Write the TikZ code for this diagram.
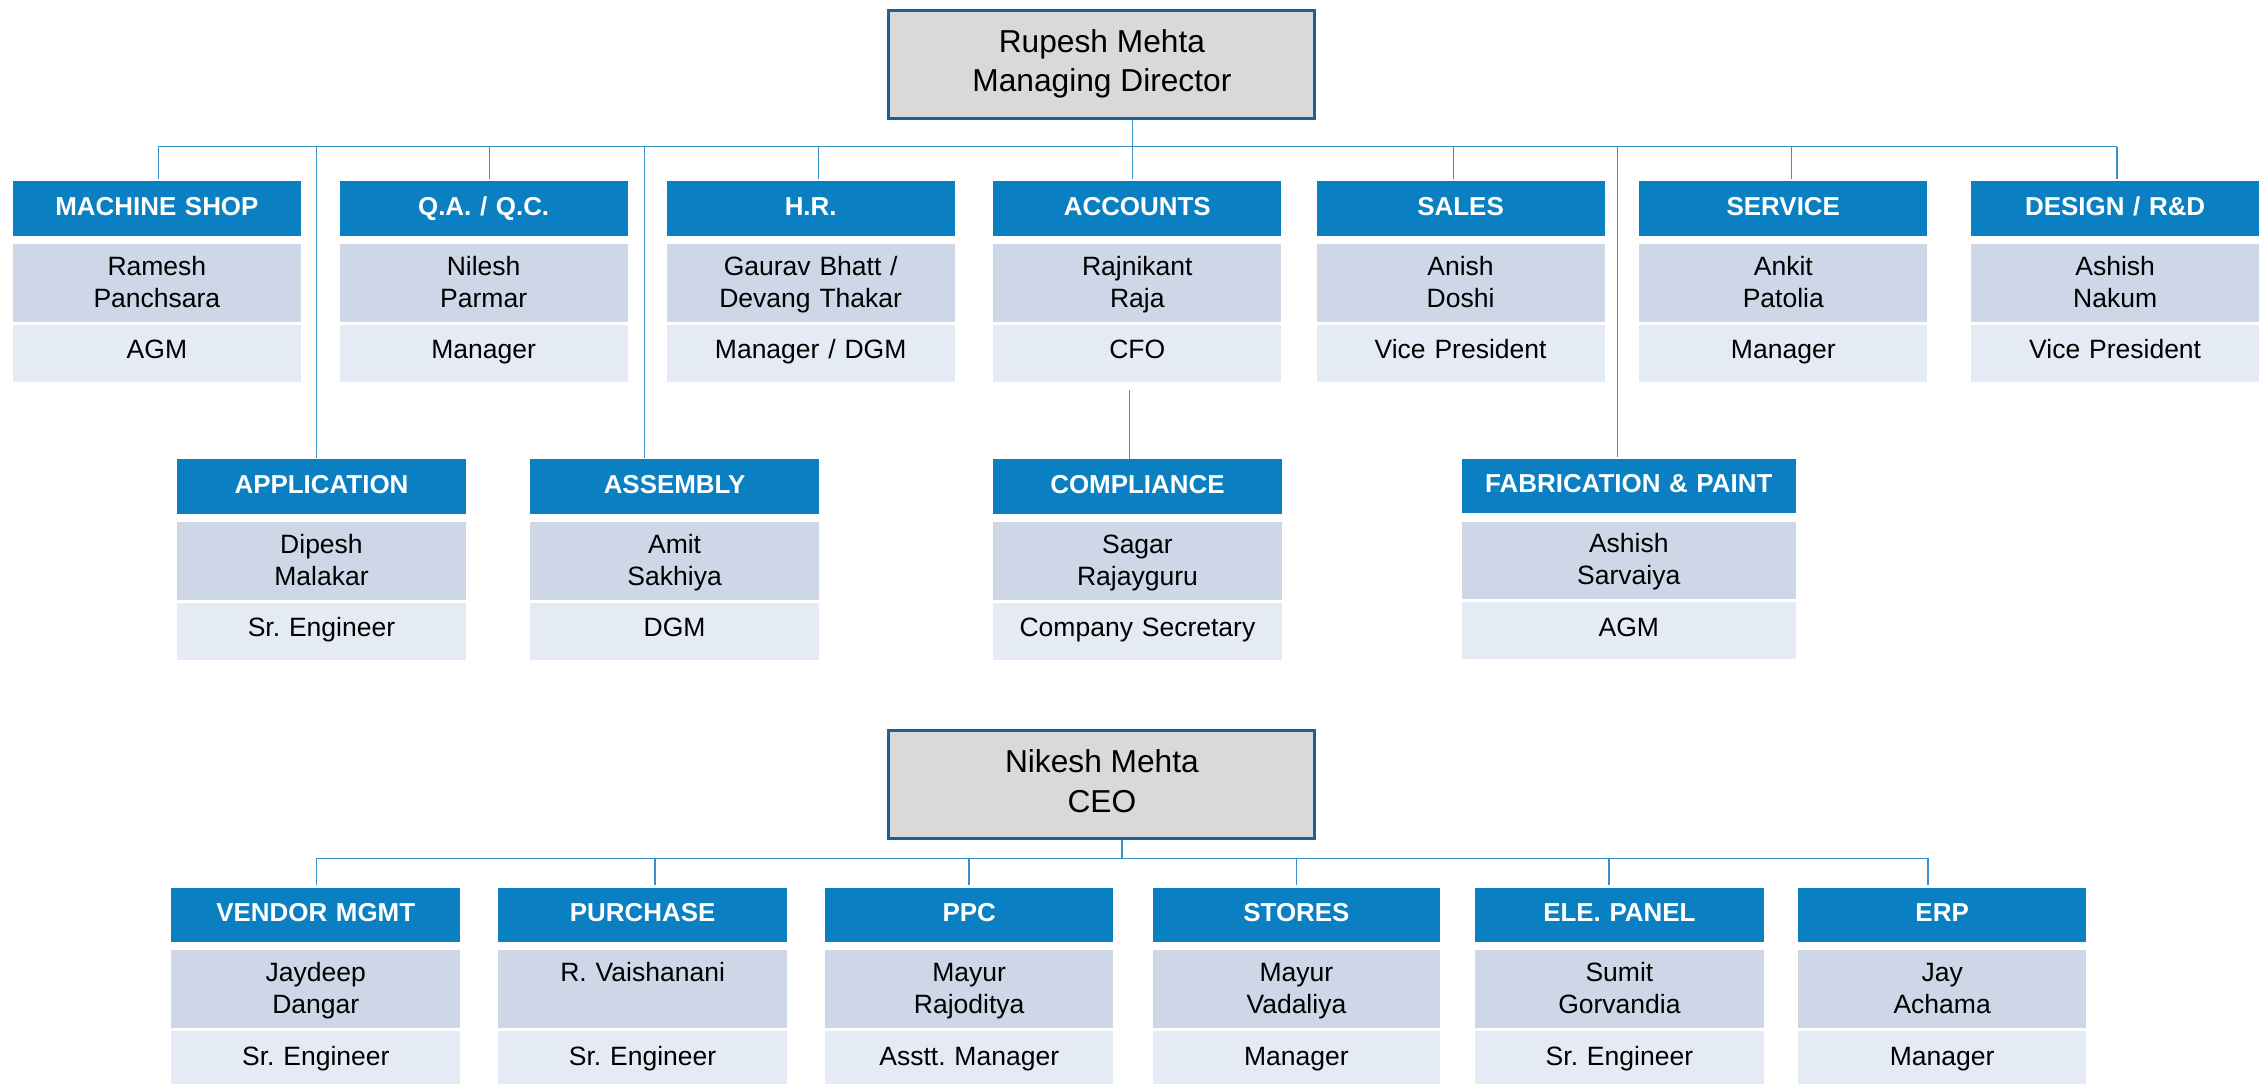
\documentclass[tikz,border=0pt]{standalone}
\usepackage{fontspec}
\setmainfont{Liberation Sans}
\definecolor{hdrblue}{HTML}{0A80C3}
\definecolor{namebg}{HTML}{CDD7E8}
\definecolor{titlebg}{HTML}{E5EBF5}
\definecolor{linec}{HTML}{3B8FCA}
\definecolor{bossborder}{HTML}{1E6096}
\definecolor{bossbg}{HTML}{D9D9D9}
\newcommand\upst[1]{\rule{0pt}{#1}}
\newcommand\downst[1]{\rule[-#1]{0pt}{#1}}
\tikzset{
  cell/.style={anchor=north west, inner sep=0pt, align=center, font=\fontsize{18.4}{22}\selectfont},
  hdr/.style={cell, fill=hdrblue, text=white, font=\fontsize{18}{22}\selectfont\bfseries, minimum height=38pt,
    execute at begin node={\upst{14pt}}, execute at end node={\downst{5.1pt}}},
  nme/.style={cell, fill=namebg, minimum height=54pt,
    execute at begin node={\upst{15.6pt}}, execute at end node={\downst{4pt}}},
  ttl/.style={cell, fill=titlebg, minimum height=39.5pt,
    execute at begin node={\upst{14pt}}, execute at end node={\downst{6.2pt}}},
  boss/.style={anchor=north west, inner sep=0pt, fill=bossbg, draw=bossborder, line width=2pt, align=center,
    font=\fontsize{22}{27.3}\selectfont, minimum width=295.7pt, minimum height=75pt,
    execute at begin node={\upst{22.35pt}}, execute at end node={\downst{5pt}}},
  conn/.style={draw=linec, line width=0.9pt},
}
\newcommand\orgdept[7]{%
  \node[hdr, text width=#4pt] (#1-h) at (#2,#3) {#5};
  \node[nme, text width=#4pt] (#1-n) at (#2,#3+43.6) {#6};
  \node[ttl, text width=#4pt] (#1-t) at (#2,#3+99.6) {#7};
}
\begin{document}
\frenchspacing
\begin{tikzpicture}[x=1pt,y=-1pt]
\useasboundingbox (0,0) rectangle (1568,752.4);
% top chart
\node[boss] (md) at (616,6) {Rupesh Mehta\\Managing Director};
\orgdept{ms}{8.7}{125.6}{200}{MACHINE SHOP}{Ramesh\\Panchsara}{AGM}
\orgdept{qa}{235.5}{125.6}{200}{Q.A. / Q.C.}{Nilesh\\Parmar}{Manager}
\orgdept{hr}{462.5}{125.6}{200}{H.R.}{Gaurav Bhatt /\\Devang Thakar}{Manager / DGM}
\orgdept{acc}{689.2}{125.6}{200}{ACCOUNTS}{Rajnikant\\Raja}{CFO}
\orgdept{sal}{913.6}{125.6}{200}{SALES}{Anish\\Doshi}{Vice President}
\orgdept{ser}{1137.6}{125.6}{200}{SERVICE}{Ankit\\Patolia}{Manager}
\orgdept{des}{1367.9}{125.6}{200.1}{DESIGN / R\&D}{Ashish\\Nakum}{Vice President}
\orgdept{app}{122.7}{318.6}{200.5}{APPLICATION}{Dipesh\\Malakar}{Sr. Engineer}
\orgdept{asm}{367.8}{318.6}{200.5}{ASSEMBLY}{Amit\\Sakhiya}{DGM}
\orgdept{comp}{689.3}{318.6}{200}{COMPLIANCE}{Sagar\\Rajayguru}{Company Secretary}
\orgdept{fab}{1014.4}{318.2}{231.9}{FABRICATION \& PAINT}{Ashish\\Sarvaiya}{AGM}
% top connectors
\coordinate (t1) at (110,101.7);
\coordinate (t2) at (340,101.7);
\coordinate (t3) at (568,101.7);
\coordinate (t4) at (786,101.7);
\coordinate (t5) at (1009,101.7);
\coordinate (t6) at (1243.6,101.7);
\coordinate (t7) at (1469.5,101.7);
\coordinate (ta) at (219.6,101.7);
\coordinate (tb) at (447.2,101.7);
\coordinate (tc) at (1122.7,101.7);
\draw[conn] (t1) -- (t7);
\draw[conn] (t4 |- md.south) -- ([yshift=1.5pt]t4 |- acc-h.north);
\draw[conn] (t1) -- ([yshift=1.5pt]t1 |- ms-h.north);
\draw[conn] (t2) -- ([yshift=1.5pt]t2 |- qa-h.north);
\draw[conn] (t3) -- ([yshift=1.5pt]t3 |- hr-h.north);
\draw[conn] (t5) -- ([yshift=1.5pt]t5 |- sal-h.north);
\draw[conn] (t6) -- ([yshift=1.5pt]t6 |- ser-h.north);
\draw[conn] (t7) -- ([yshift=1.5pt]t7 |- des-h.north);
\draw[conn] (ta) -- ([yshift=1pt]ta |- app-h.north);
\draw[conn] (tb) -- ([yshift=1pt]tb |- asm-h.north);
\draw[conn] (tc) -- ([yshift=1pt]tc |- fab-h.north);
\coordinate (cd) at (784,270.7);
\draw[conn] (cd) -- (cd |- comp-h.north);
% bottom chart
\node[boss] (ceo) at (616,506) {Nikesh Mehta\\CEO};
\orgdept{ven}{118.7}{615.9}{200.6}{VENDOR MGMT}{Jaydeep\\Dangar}{Sr. Engineer}
\orgdept{pur}{345.8}{615.9}{200.1}{PURCHASE}{R. Vaishanani\\}{Sr. Engineer}
\orgdept{ppc}{572.5}{615.9}{200.1}{PPC}{Mayur\\Rajoditya}{Asstt. Manager}
\orgdept{sto}{799.8}{615.9}{199.7}{STORES}{Mayur\\Vadaliya}{Manager}
\orgdept{ele}{1023.8}{615.9}{200.1}{ELE. PANEL}{Sumit\\Gorvandia}{Sr. Engineer}
\orgdept{erp}{1247.8}{615.9}{200.1}{ERP}{Jay\\Achama}{Manager}
\coordinate (b1) at (219.7,595.8);
\coordinate (b2) at (454.6,595.8);
\coordinate (b3) at (672.5,595.8);
\coordinate (b4) at (899.8,595.8);
\coordinate (b5) at (1116.8,595.8);
\coordinate (b6) at (1338.2,595.8);
\coordinate (bc) at (778.7,595.8);
\draw[conn] (b1) -- (b6);
\draw[conn] (bc |- ceo.south) -- (bc);
\draw[conn] (b1) -- ([yshift=1.5pt]b1 |- ven-h.north);
\draw[conn] (b2) -- ([yshift=1.5pt]b2 |- pur-h.north);
\draw[conn] (b3) -- ([yshift=1.5pt]b3 |- ppc-h.north);
\draw[conn] (b4) -- ([yshift=1.5pt]b4 |- sto-h.north);
\draw[conn] (b5) -- ([yshift=1.5pt]b5 |- ele-h.north);
\draw[conn] (b6) -- ([yshift=1.5pt]b6 |- erp-h.north);
\end{tikzpicture}
\end{document}
